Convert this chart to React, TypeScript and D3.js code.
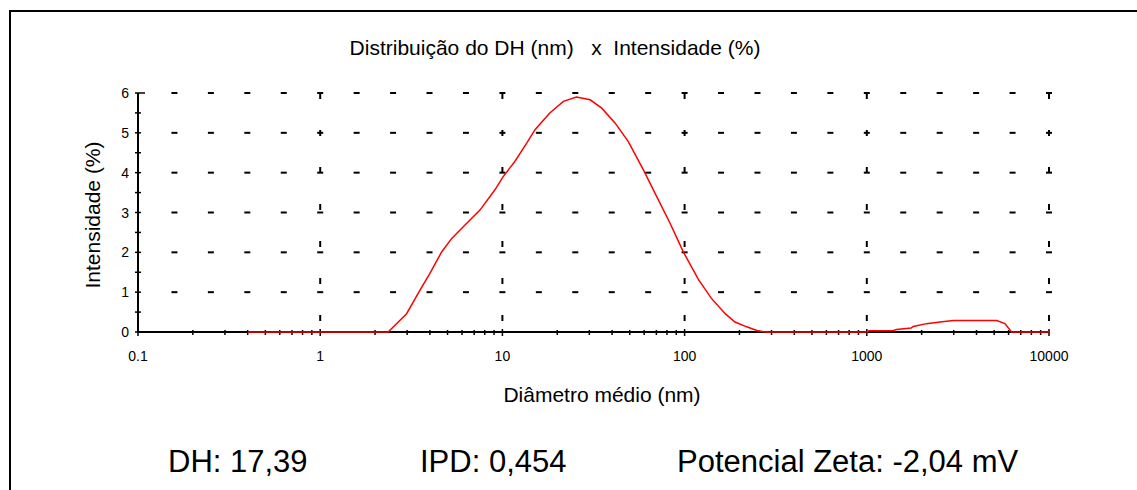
import React, { useEffect, useRef } from "react";
import * as d3 from "d3";

// diameter (nm) and intensity (%)
const diameters = [
  0.4, 2.36, 2.98, 3.53, 4.0, 4.64, 5.27, 6.1, 7.53, 9.1, 10.1, 11.7, 13.6,
  15.1, 18.2, 21.6, 25.5, 30.3, 35.1, 41.5, 49.1, 59.4, 70.3, 83.2, 98.4, 119,
  140, 167, 189, 219, 249, 276, 1000, 1030, 1400, 1456, 1750, 1799, 2130, 2522,
  2985, 5165, 5728, 6232, 10000,
];
const intensities = [
  0, 0, 0.46, 1.05, 1.47, 2.01, 2.35, 2.64, 3.06, 3.57, 3.9, 4.28, 4.74, 5.08,
  5.5, 5.79, 5.9, 5.83, 5.62, 5.25, 4.78, 4.07, 3.4, 2.73, 2.01, 1.32, 0.85,
  0.46, 0.25, 0.13, 0.04, 0, 0, 0.03, 0.04, 0.06, 0.1, 0.14, 0.21, 0.25, 0.29,
  0.29, 0.21, 0, 0,
];
const xTicks = [0.1, 1, 10, 100, 1000, 10000];
const xTickLabels = ["0.1", "1", "10", "100", "1000", "10000"];
const yTicks = [0, 1, 2, 3, 4, 5, 6];

const title = "Distribuição do DH (nm)   x  Intensidade (%)";
const xTitle = "Diâmetro médio (nm)";
const yTitle = "Intensidade (%)";
const summary = [
  { label: "DH: 17,39", x: 168 },
  { label: "IPD: 0,454", x: 420 },
  { label: "Potencial Zeta: -2,04 mV", x: 677 },
];

const W = 1137;
const H = 490;

const App = () => {
  const ref = useRef<SVGSVGElement>(null);

  useEffect(() => {
    const svg = d3.select(ref.current);
    svg.selectAll("*").remove();
    const font = "'Liberation Sans', Arial, sans-serif";

    const x = d3.scaleLog().domain([0.1, 10000]).range([138, 1049]);
    const y = d3.scaleLinear().domain([0, 6]).range([332, 93]);

    // frame (left + top edges only)
    svg
      .append("path")
      .attr("d", `M10,${H} V11 H${W}`)
      .attr("fill", "none")
      .attr("stroke", "#000")
      .attr("stroke-width", 2);

    // horizontal dashed grid
    const steps = d3.range(1, 26).map((k) => 0.1 * Math.pow(10, k / 5));
    const grid = svg.append("g").attr("stroke", "#000").attr("stroke-width", 2);
    yTicks.slice(1).forEach((v) => {
      steps.forEach((s) => {
        grid
          .append("line")
          .attr("x1", x(s) - 3)
          .attr("x2", x(s) + 3)
          .attr("y1", y(v))
          .attr("y2", y(v));
      });
    });
    // vertical dashed grid at decades
    xTicks.slice(1).forEach((d) => {
      grid
        .append("line")
        .attr("x1", x(d))
        .attr("x2", x(d))
        .attr("y1", y(6))
        .attr("y2", y(0))
        .attr("stroke-width", 2)
        .attr("stroke-dasharray", "6 31");
    });

    // axes
    const ax = svg.append("g").attr("stroke", "#000").attr("stroke-width", 1.5);
    ax.append("line")
      .attr("x1", x(0.1))
      .attr("x2", x(10000))
      .attr("y1", y(0))
      .attr("y2", y(0))
      .attr("stroke-width", 2);
    ax.append("line")
      .attr("x1", x(0.1))
      .attr("x2", x(0.1))
      .attr("y1", y(0))
      .attr("y2", y(6))
      .attr("stroke-width", 2);

    xTicks.forEach((d, i) => {
      ax.append("line")
        .attr("x1", x(d))
        .attr("x2", x(d))
        .attr("y1", y(0) - 3)
        .attr("y2", y(0) + 4);
      if (i < xTicks.length - 1) {
        d3.range(2, 10).forEach((m) => {
          ax.append("line")
            .attr("x1", x(d * m))
            .attr("x2", x(d * m))
            .attr("y1", y(0) - 2)
            .attr("y2", y(0) + 3);
        });
      }
    });
    d3.range(0, 6.5, 0.5).forEach((v) => {
      ax.append("line")
        .attr("x1", x(0.1) - 3)
        .attr("x2", x(0.1) + (v === 6 ? 7 : 3))
        .attr("y1", y(v))
        .attr("y2", y(v));
    });

    // tick labels
    svg
      .append("g")
      .selectAll("text")
      .data(xTicks)
      .join("text")
      .attr("x", (d) => x(d))
      .attr("y", 361)
      .attr("text-anchor", "middle")
      .attr("font-family", font)
      .attr("font-size", 14)
      .text((d, i) => xTickLabels[i]);
    svg
      .append("g")
      .selectAll("text")
      .data(yTicks)
      .join("text")
      .attr("x", 129)
      .attr("y", (d) => y(d) + 5)
      .attr("text-anchor", "end")
      .attr("font-family", font)
      .attr("font-size", 14)
      .text((d) => d);

    // curve
    const pts = diameters.map((d, i) => [d, intensities[i]] as [number, number]);
    svg
      .append("path")
      .datum(pts)
      .attr("fill", "none")
      .attr("stroke", "#ff0000")
      .attr("stroke-width", 1.5)
      .attr(
        "d",
        d3
          .line<[number, number]>()
          .x((d) => x(d[0]))
          .y((d) => y(d[1]))
      );

    // titles
    svg
      .append("text")
      .attr("x", 555)
      .attr("y", 55)
      .attr("text-anchor", "middle")
      .attr("font-family", font)
      .attr("font-size", 21)
      .style("white-space", "pre")
      .text(title);
    svg
      .append("text")
      .attr("x", 602)
      .attr("y", 402)
      .attr("text-anchor", "middle")
      .attr("font-family", font)
      .attr("font-size", 21)
      .text(xTitle);
    svg
      .append("text")
      .attr("transform", "translate(100,215) rotate(-90)")
      .attr("text-anchor", "middle")
      .attr("font-family", font)
      .attr("font-size", 21)
      .text(yTitle);

    svg
      .append("g")
      .selectAll("text")
      .data(summary)
      .join("text")
      .attr("x", (d) => d.x)
      .attr("y", 472)
      .attr("font-family", font)
      .attr("font-size", 31)
      .text((d) => d.label);
  }, []);

  return (
    <svg
      ref={ref}
      width={W}
      height={H}
      style={{ position: "absolute", left: 0, top: 0, background: "#fff" }}
    />
  );
};

export default App;
